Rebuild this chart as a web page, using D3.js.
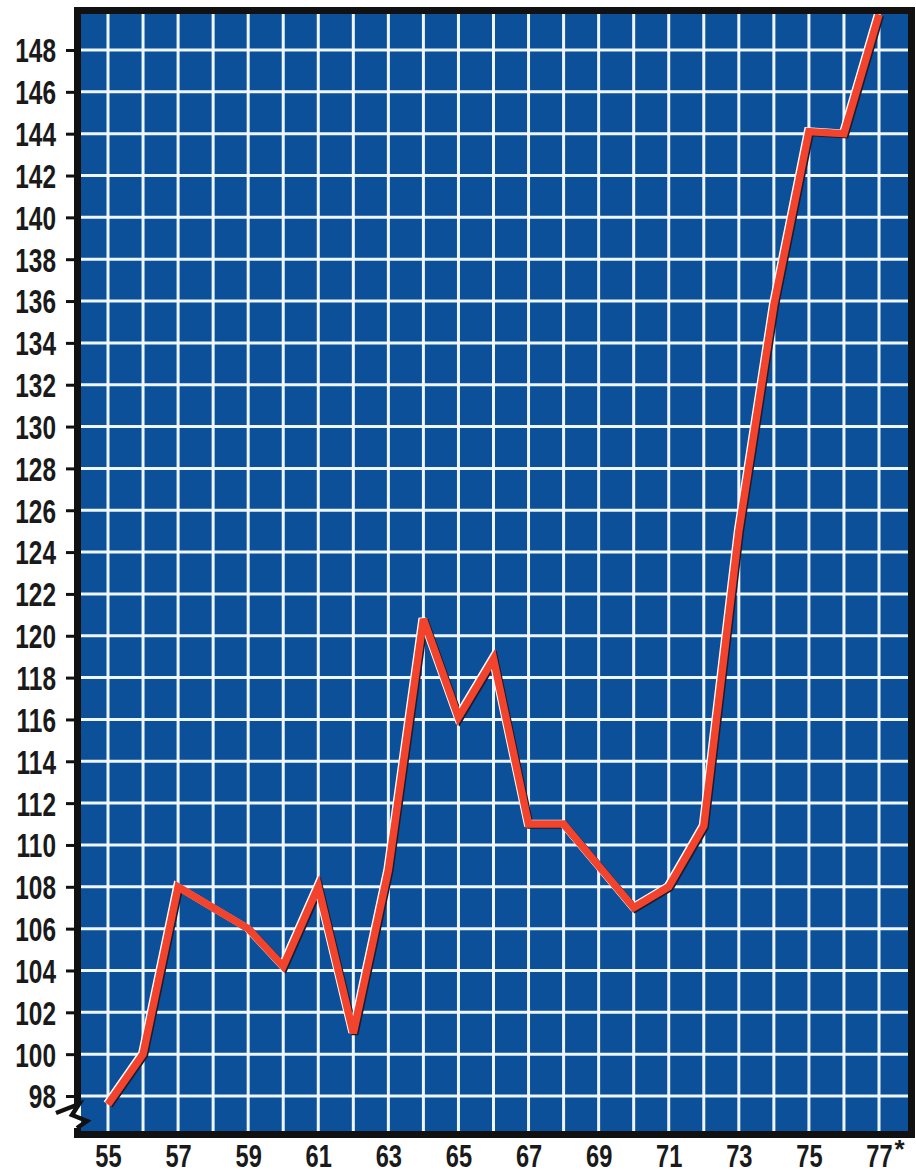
<!DOCTYPE html>
<html>
<head>
<meta charset="utf-8">
<script src="https://cdn.jsdelivr.net/npm/d3@7"></script>
<style>
  body { margin: 0; background: #fff; }
  svg { display: block; }
  .axis text { font-family: "Liberation Sans", Arial, sans-serif; font-weight: bold; font-size: 33px; fill: #1a1a1a; }
  .xaxis text { font-size: 32px; }
</style>
</head>
<body>
<div class="canvas"></div>
<script>
// years along the bottom, index values
const years = [55, 56, 57, 58, 59, 60, 61, 62, 63, 64, 65, 66, 67, 68, 69, 70, 71, 72, 73, 74, 75, 76, 77];
const values = [97.6, 100, 108, 107, 106, 104.2, 108, 101, 108.8, 120.8, 116.1, 118.9, 111, 111, 109, 107, 108, 110.9, 125, 135.8, 144.1, 144, 149.7];
const yTicks = d3.range(98, 149, 2);
const xLabels = [55, 57, 59, 61, 63, 65, 67, 69, 71, 73, 75, 77];

const dims = { width: 916, height: 1174 };
const plot = { left: 81, top: 14, right: 908, bottom: 1131 };
const border = 7;
const squeeze = 0.74; // condensed look for the digits

const svg = d3.select('.canvas')
  .append('svg')
    .attr('width', dims.width)
    .attr('height', dims.height);

const x = d3.scaleLinear().domain([55, 77]).range([108, 879]);
const y = d3.scaleLinear().domain([98, 148]).range([1096, 50]);

// black frame + blue field
svg.append('rect')
  .attr('x', plot.left - border)
  .attr('y', plot.top - border)
  .attr('width', plot.right - plot.left + border * 2)
  .attr('height', plot.bottom - plot.top + border * 2)
  .attr('fill', '#111');

svg.append('rect')
  .attr('x', plot.left)
  .attr('y', plot.top)
  .attr('width', plot.right - plot.left)
  .attr('height', plot.bottom - plot.top)
  .attr('fill', '#0b5099');

svg.append('clipPath')
  .attr('id', 'field')
  .append('rect')
    .attr('x', plot.left)
    .attr('y', plot.top)
    .attr('width', plot.right - plot.left)
    .attr('height', plot.bottom - plot.top);

// grid
const grid = svg.append('g').attr('clip-path', 'url(#field)');
grid.selectAll('line.v')
  .data(years)
  .enter().append('line')
    .attr('class', 'v')
    .attr('x1', d => x(d)).attr('x2', d => x(d))
    .attr('y1', plot.top).attr('y2', plot.bottom)
    .attr('stroke', '#eef6ff')
    .attr('stroke-width', 3);
grid.selectAll('line.h')
  .data(yTicks)
  .enter().append('line')
    .attr('class', 'h')
    .attr('x1', plot.left).attr('x2', plot.right)
    .attr('y1', d => y(d)).attr('y2', d => y(d))
    .attr('stroke', '#eef6ff')
    .attr('stroke-width', 3);

// the red line, with a dark edge and a white edge
const line = d3.line()
  .x((d, i) => x(years[i]))
  .y(d => y(d));

const lines = svg.append('g').attr('clip-path', 'url(#field)');
lines.append('path')
  .attr('d', line(values))
  .attr('transform', 'translate(1.6,1.2)')
  .attr('fill', 'none')
  .attr('stroke', '#1b1b30')
  .attr('stroke-width', 7);
lines.append('path')
  .attr('d', line(values))
  .attr('transform', 'translate(-1.5,-0.8)')
  .attr('fill', 'none')
  .attr('stroke', '#fff')
  .attr('stroke-width', 7);
lines.append('path')
  .attr('d', line(values))
  .attr('fill', 'none')
  .attr('stroke', '#f2442c')
  .attr('stroke-width', 7.5);

// left axis
const yAxis = d3.axisLeft(y)
  .tickValues(yTicks)
  .tickSize(12)
  .tickPadding(9);

const yg = svg.append('g')
  .attr('class', 'axis')
  .attr('transform', `translate(${plot.left - 3}, 0)`)
  .call(yAxis);
yg.select('.domain').remove();
yg.selectAll('.tick line').attr('stroke', '#111').attr('stroke-width', 3);
yg.selectAll('text')
  .attr('x', 0)
  .attr('dy', '0.36em')
  .attr('transform', `translate(-22,0) scale(${squeeze},1)`);

// bottom axis
const xAxis = d3.axisBottom(x)
  .tickValues(xLabels)
  .tickSize(0)
  .tickPadding(5);

const xg = svg.append('g')
  .attr('class', 'axis xaxis')
  .attr('transform', `translate(0, ${plot.bottom + border + 1})`)
  .call(xAxis);
xg.select('.domain').remove();
xg.selectAll('text')
  .attr('transform', `scale(${squeeze},1)`);

xg.selectAll('.tick')
  .filter(d => d === 77)
  .append('text')
    .attr('x', 15)
    .attr('y', 1)
    .attr('dy', '0.71em')
    .attr('text-anchor', 'start')
    .style('font-size', '26px')
    .text('*');

// axis break mark on the left border
svg.append('rect')
  .attr('x', 70).attr('y', 1104)
  .attr('width', 12).attr('height', 24)
  .attr('fill', '#fff');
svg.append('rect')
  .attr('x', plot.left).attr('y', 1104)
  .attr('width', 3).attr('height', 24)
  .attr('fill', '#0b5099');
svg.append('path')
  .attr('d', 'M56,1113 L79,1104 L72,1115 L87,1121 L77,1128')
  .attr('fill', 'none')
  .attr('stroke', '#111')
  .attr('stroke-width', 4.5)
  .attr('stroke-linejoin', 'miter');
</script>
</body>
</html>
